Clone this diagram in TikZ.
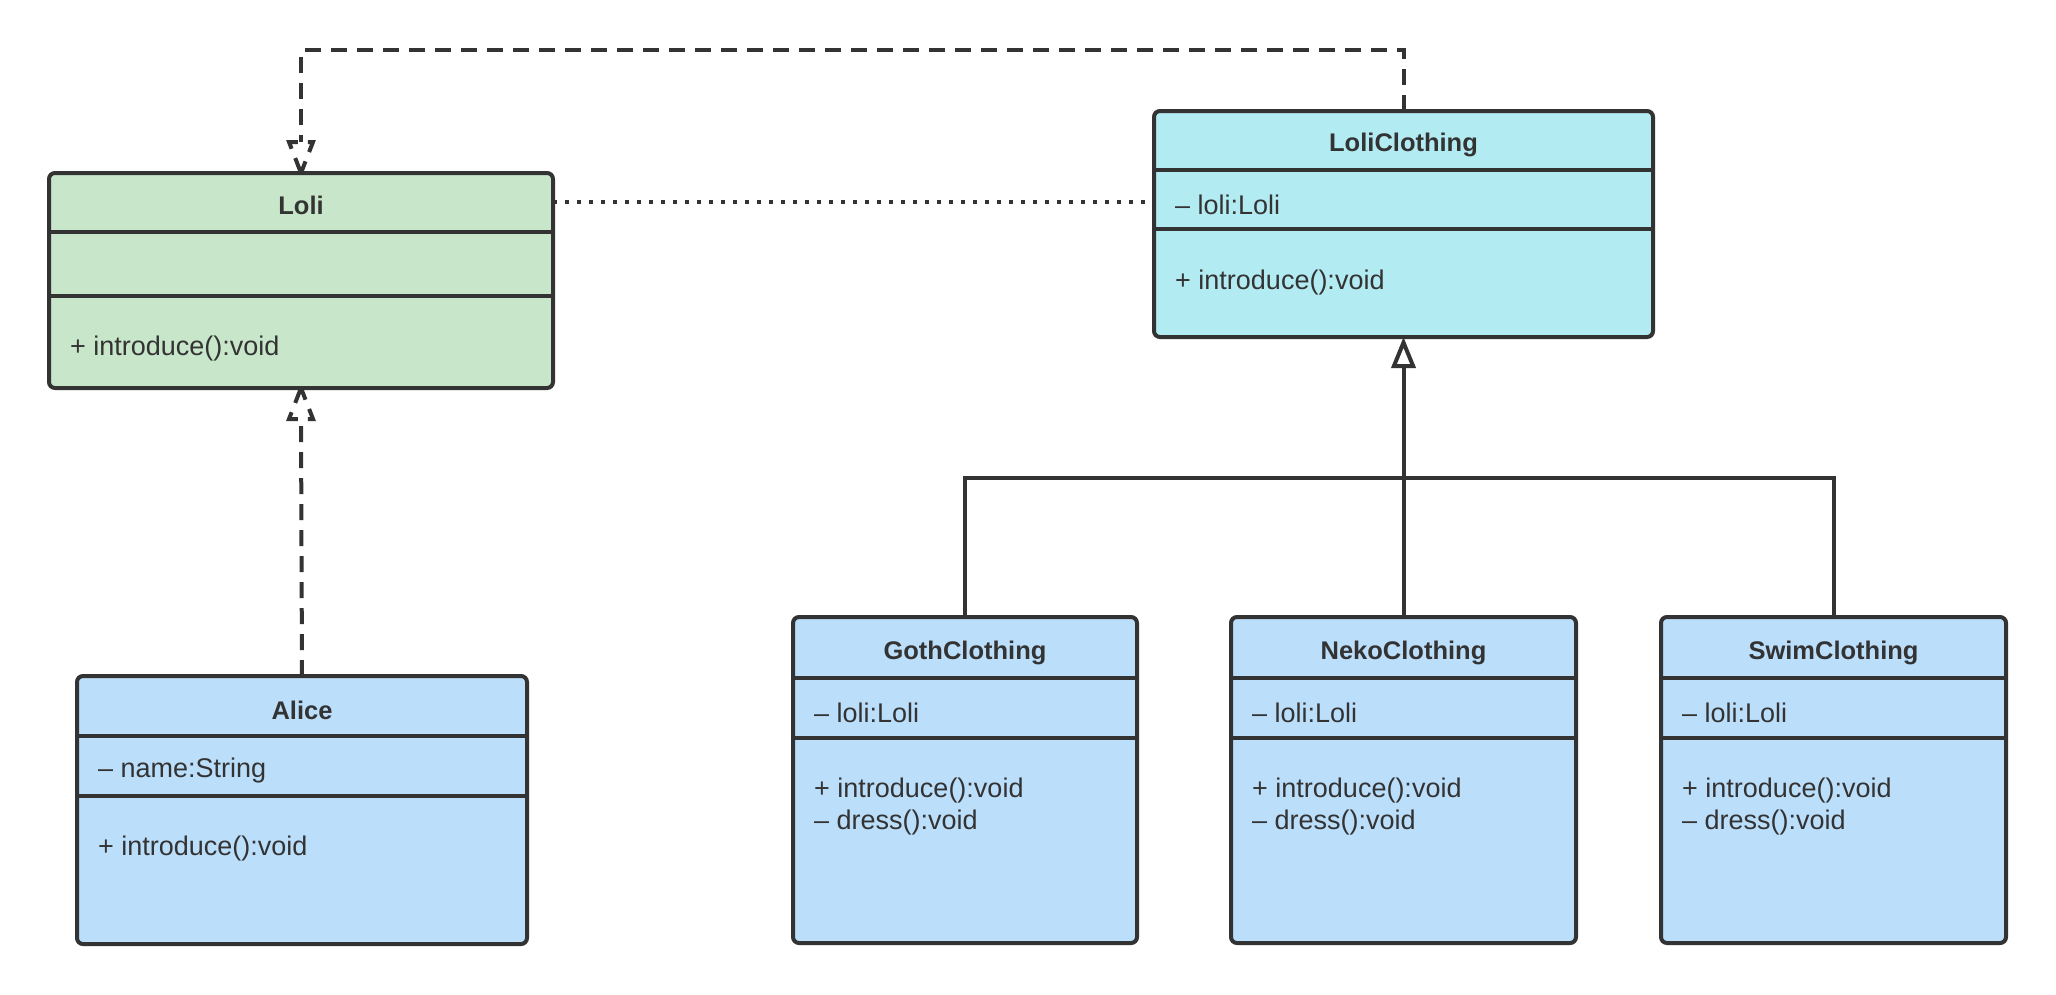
\documentclass[tikz,border=0pt]{standalone}
\usepackage{fontspec}
\setmainfont{Liberation Sans}
\usetikzlibrary{arrows.meta}
\definecolor{lc}{HTML}{333333}
\definecolor{fgreen}{HTML}{C8E6C9}
\definecolor{fcyan}{HTML}{B2EBF2}
\definecolor{fblue}{HTML}{BBDEFB}
\tikzset{
  classbox/.style={rectangle, draw=lc, line width=4pt, rounded corners=6pt, anchor=north west, inner sep=0pt, outer sep=0pt},
  divider/.style={draw=lc, line width=4pt},
  ctitle/.style={anchor=center, inner sep=0pt, text=lc, font=\fontsize{25.5}{30}\selectfont\bfseries},
  citem/.style={anchor=west, inner sep=0pt, text=lc, font=\fontsize{27}{30}\selectfont},
  solidline/.style={draw=lc, line width=4pt},
  dashline/.style={draw=lc, line width=4pt, dash pattern=on 16pt off 10pt},
  dotline/.style={draw=lc, line width=4pt, dash pattern=on 4pt off 8pt},
}
\begin{document}
\begin{tikzpicture}[x=1pt,y=-1pt]
\useasboundingbox[fill=white] (0,0) rectangle (2056,994);

% Loli
\node[classbox, fill=fgreen, minimum width=504pt, minimum height=215pt] (loli) at (49,173) {};
\draw[divider] (loli.west |- 0,232) -- (loli.east |- 0,232);
\draw[divider] (loli.west |- 0,296) -- (loli.east |- 0,296);
\node[ctitle] (loliT) at (301,205) {Loli};
\node[citem] (loliM) at (70,349) {+ introduce():void};

% LoliClothing
\node[classbox, fill=fcyan, minimum width=499pt, minimum height=226pt] (cloth) at (1154,111) {};
\draw[divider] (cloth.west |- 0,170) -- (cloth.east |- 0,170);
\draw[divider] (cloth.west |- 0,229) -- (cloth.east |- 0,229);
\node[ctitle] (clothT) at (1403.5,145) {LoliClothing};
\node[citem] (clothA) at (1175,205) {– loli:Loli};
\node[citem] (clothM) at (1175,283) {+ introduce():void};

% Alice
\node[classbox, fill=fblue, minimum width=450pt, minimum height=268pt] (alice) at (77,676) {};
\draw[divider] (alice.west |- 0,736) -- (alice.east |- 0,736);
\draw[divider] (alice.west |- 0,796) -- (alice.east |- 0,796);
\node[ctitle] (aliceT) at (302,710) {Alice};
\node[citem] (aliceA) at (98,771) {– name:String};
\node[citem] (aliceM) at (98,848) {+ introduce():void};

% GothClothing
\node[classbox, fill=fblue, minimum width=344pt, minimum height=326pt] (goth) at (793,617) {};
\draw[divider] (goth.west |- 0,678) -- (goth.east |- 0,678);
\draw[divider] (goth.west |- 0,738) -- (goth.east |- 0,738);
\node[ctitle] (gothT) at (965,653) {GothClothing};
\node[citem] (gothA) at (814,713) {– loli:Loli};
\node[citem] (gothM1) at (814,790) {+ introduce():void};
\node[citem] (gothM2) at (814,822) {– dress():void};

% NekoClothing
\node[classbox, fill=fblue, minimum width=345pt, minimum height=326pt] (neko) at (1231,617) {};
\draw[divider] (neko.west |- 0,678) -- (neko.east |- 0,678);
\draw[divider] (neko.west |- 0,738) -- (neko.east |- 0,738);
\node[ctitle] (nekoT) at (1403.5,653) {NekoClothing};
\node[citem] (nekoA) at (1252,713) {– loli:Loli};
\node[citem] (nekoM1) at (1252,790) {+ introduce():void};
\node[citem] (nekoM2) at (1252,822) {– dress():void};

% SwimClothing
\node[classbox, fill=fblue, minimum width=345pt, minimum height=326pt] (swim) at (1661,617) {};
\draw[divider] (swim.west |- 0,678) -- (swim.east |- 0,678);
\draw[divider] (swim.west |- 0,738) -- (swim.east |- 0,738);
\node[ctitle] (swimT) at (1833.5,653) {SwimClothing};
\node[citem] (swimA) at (1682,713) {– loli:Loli};
\node[citem] (swimM1) at (1682,790) {+ introduce():void};
\node[citem] (swimM2) at (1682,822) {– dress():void};

% Realization LoliClothing -> Loli
\coordinate (loliTopBase) at ([yshift=31pt]loli.north);
\draw[dashline] (cloth.north) -- (cloth.north |- 0,50) -| (loliTopBase);
\draw[dashline] (loli.north) -- ++(-12,-31) -- ++(24,0) -- cycle;

% Realization Alice -> Loli
\coordinate (loliBotBase) at ([yshift=-31pt]loli.south);
\draw[dashline] (alice.north) -- (loliBotBase);
\draw[dashline] (loli.south) -- ++(-12,31) -- ++(24,0) -- cycle;

% Association Loli -- LoliClothing
\draw[dotline] (loli.east |- 0,202) -- (cloth.west |- 0,202);

% Generalization
\draw[solidline, -{Triangle[open, length=31pt, width=24pt]}] (neko.north) -- (cloth.south);
\draw[solidline] (goth.north) -- (goth.north |- 0,478) -| (swim.north);
\end{tikzpicture}
\end{document}
